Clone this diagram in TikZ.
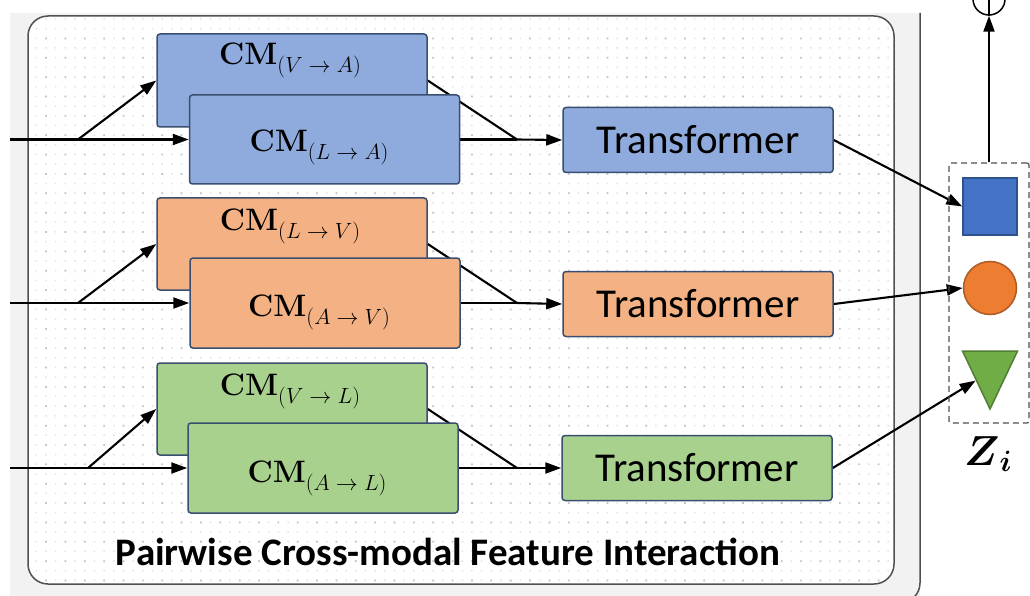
\RequirePackage{fix-cm}
\documentclass[tikz,border=0pt]{standalone}
\usepackage{amsmath}
\usepackage{fontspec}
\usetikzlibrary{arrows.meta,shapes.geometric}
\newfontfamily\calibri{Carlito}
\definecolor{outerbg}{HTML}{F2F2F2}
\definecolor{framecol}{HTML}{505050}
\definecolor{dotmajor}{HTML}{C4C4C4}
\definecolor{dotminor}{HTML}{E2E2E2}
\definecolor{boxline}{HTML}{3A4E70}
\definecolor{blueF}{HTML}{8FAADC}
\definecolor{orangeF}{HTML}{F4B183}
\definecolor{greenF}{HTML}{A9D18E}
\definecolor{sqF}{HTML}{4472C4}
\definecolor{sqD}{HTML}{2F528F}
\definecolor{ciF}{HTML}{ED7D31}
\definecolor{ciD}{HTML}{AE5A21}
\definecolor{trF}{HTML}{70AD47}
\definecolor{trD}{HTML}{507E32}
\newcommand{\cmlab}[2]{{\bfseries CM}\raisebox{-8pt}{\fontsize{22}{26}\selectfont$(#1\mkern5mu{\to}\mkern5mu #2)$}}
\pgfdeclarelayer{back}
\pgfdeclarelayer{mid}
\pgfsetlayers{back,mid,main}
\begin{document}
\begin{tikzpicture}[x=1pt,y=-1pt,
  cmbox/.style={draw=boxline, line width=1.5pt, rounded corners=3pt, minimum width=270pt, inner sep=0pt},
  cmtxt/.style={font=\fontsize{31}{36}\selectfont, inner sep=0pt, anchor=base},
  trbox/.style={draw=boxline, line width=1.5pt, rounded corners=3pt, minimum width=270pt, minimum height=65pt, inner sep=0pt, font=\calibri\fontsize{41}{48}\selectfont},
  conn/.style={line width=2.1pt, black},
  arr/.style={conn, -{Triangle[length=16pt,width=11pt]}},
  panelbox/.style={draw=framecol, line width=1.5pt, rounded corners=20pt, minimum width=866pt, minimum height=568pt, inner sep=0pt},
  titletxt/.style={font=\calibri\bfseries\fontsize{39}{46}\selectfont, inner sep=0pt, anchor=base}
]
\useasboundingbox (0,0) rectangle (1030,596);
\begin{pgfonlayer}{back}
  \fill[outerbg] (10,13) rectangle (920,596);
  \draw[framecol, line width=1.5pt, rounded corners=20pt] (920,13) -- (920,603) -- (860,603);
  \fill[white, rounded corners=20pt] (28,16) rectangle (894,584);
  \begin{scope}
    \clip[rounded corners=20pt] (28,16) rectangle (894,584);
    \fill[dotminor] \foreach \i in {0,...,90}{\foreach \j in {0,...,60}{(35.6+9.68*\i,18.2+9.68*\j) rectangle ++(1.5,1.5)}};
    \fill[dotmajor] \foreach \i in {0,...,45}{\foreach \j in {0,...,30}{(45.2+19.36*\i,37.6+19.36*\j) rectangle ++(1.7,1.7)}};
  \end{scope}
  \node[panelbox] (panel) at (461,300) {};
\end{pgfonlayer}

% ---- boxes
\node[cmbox, fill=blueF, minimum height=93pt] (cmVA) at (292,80.5) {};
\node[cmbox, fill=blueF, minimum height=89pt] (cmLA) at (324.5,139.5) {};
\node[cmtxt] (cmVAt) at (290,65) {\cmlab{V}{A}};
\node[cmtxt] (cmLAt) at (319,152) {\cmlab{L}{A}};

\node[cmbox, fill=orangeF, minimum height=92pt] (cmLV) at (292,244) {};
\node[cmbox, fill=orangeF, minimum height=90pt] (cmAV) at (325,303) {};
\node[cmtxt] (cmLVt) at (290,230) {\cmlab{L}{V}};
\node[cmtxt] (cmAVt) at (319,316) {\cmlab{A}{V}};

\node[cmbox, fill=greenF, minimum height=92pt] (cmVL) at (292,409) {};
\node[cmbox, fill=greenF, minimum height=90pt] (cmAL) at (323,468) {};
\node[cmtxt] (cmVLt) at (290,395) {\cmlab{V}{L}};
\node[cmtxt] (cmALt) at (317,482) {\cmlab{A}{L}};

\node[trbox, fill=blueF] (trA) at (698,140) {Transformer};
\node[trbox, fill=orangeF] (trV) at (698,304) {Transformer};
\node[trbox, fill=greenF] (trL) at (697,468) {Transformer};

\node[titletxt] (title) at (448,565) {Pairwise Cross-modal Feature Interaction};

% ---- Z_i group
\node[draw=framecol, line width=1.2pt, dash pattern=on 6pt off 4pt, rounded corners=2pt, minimum width=80pt, minimum height=260pt, inner sep=0pt] (zb) at (989,293) {};
\node[draw=sqD, fill=sqF, line width=1.5pt, minimum width=54pt, minimum height=57pt, inner sep=0pt] (sq) at (990,206.5) {};
\node[circle, draw=ciD, fill=ciF, line width=1.5pt, minimum size=53pt, inner sep=0pt] (ci) at (990,288) {};
\node[isosceles triangle, isosceles triangle stretches, shape border rotate=-90, draw=trD, fill=trF, line width=1.5pt, minimum width=55pt, minimum height=58pt, inner sep=0pt, anchor=apex] (tri) at (990,411) {};
\node[anchor=base west, inner sep=0pt, font=\fontsize{42}{50}\selectfont] (zl) at (964,465) {$\boldsymbol{Z}_{\boldsymbol{i}}$};
\node[circle, draw=black, line width=1.5pt, minimum size=32pt, inner sep=0pt] (plus) at (989,-1) {};

% ---- connectors
\begin{pgfonlayer}{mid}
  \coordinate (inA) at (10,139.5);
  \coordinate (brA) at (78,139.5);
  \coordinate (mA) at (517,139.5);
  \draw[arr] (inA) -- (cmLA.west);
  \draw[arr] (brA) -- (cmVA.west);
  \draw[conn] (cmVA.east) -- (mA);
  \draw[conn] (cmLA.east) -- (mA);
  \draw[arr] (mA) -- (trA.west);

  \coordinate (inV) at (10,303);
  \coordinate (brV) at (78,303);
  \coordinate (mV) at (517,303);
  \draw[arr] (inV) -- (cmAV.west);
  \draw[arr] (brV) -- (cmLV.west);
  \draw[conn] (cmLV.east) -- (mV);
  \draw[conn] (cmAV.east) -- (mV);
  \draw[arr] (mV) -- (trV.west);

  \coordinate (inL) at (10,468);
  \coordinate (brL) at (88,468);
  \coordinate (mL) at (517,468);
  \draw[arr] (inL) -- (cmAL.west);
  \draw[arr] (brL) -- (cmVL.west);
  \draw[conn] (cmVL.east) -- (mL);
  \draw[conn] (cmAL.east) -- (mL);
  \draw[arr] (mL) -- (trL.west);

  \draw[arr] (trA.east) -- (sq.west);
  \draw[arr] (trV.east) -- (ci.west);
  \draw[arr] (trL.east) -- (tri.right side);
  \draw[arr] (zb.north) -- (plus.south);
  \draw[line width=1.5pt] (plus.north) -- (plus.south);
\end{pgfonlayer}
\end{tikzpicture}
\end{document}
